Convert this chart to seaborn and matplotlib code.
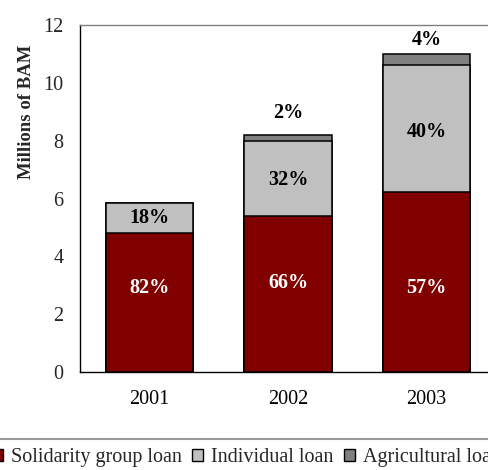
import matplotlib
matplotlib.use("Agg")
import matplotlib.pyplot as plt
import seaborn as sns
import pandas as pd
import numpy as np
from matplotlib.patches import Patch

years = ["2001", "2002", "2003"]
solidarity = [4.80, 5.40, 6.23]
individual = [1.05, 2.60, 4.39]
agricultural = [0.00, 0.20, 0.38]
labels_solidarity = ["82%", "66%", "57%"]
labels_individual = ["18%", "32%", "40%"]
labels_agricultural = ["", "2%", "4%"]
series_names = ["Solidarity group loan", "Individual loan", "Agricultural loan"]
colors = ["#800000", "#C0C0C0", "#808080"]

# label placement tweaks (value units), as in the original
off_solidarity = [0.50, 0.38, -0.20]
off_individual = [0.0, -0.06, -0.13]
off_top = [0.0, 0.76, 0.49]

sns.set_theme(style="white")
plt.rcParams["font.family"] = ["Liberation Serif", "DejaVu Serif"]

fig = plt.figure(figsize=(4.89, 4.70), dpi=100)
ax = fig.add_axes([80/489, 98/470, 416/489, 347/470])

s = np.array(solidarity)
i = np.array(individual)
a = np.array(agricultural)
layers = [(s + i + a, colors[2]), (s + i, colors[1]), (s, colors[0])]
for vals, col in layers:
    df = pd.DataFrame({"year": years, "v": vals})
    sns.barplot(data=df, x="year", y="v", color=col, width=0.63,
                edgecolor="black", linewidth=1.1, saturation=1, ax=ax)

pct_fs = 14.5
for k in range(3):
    ax.text(k, s[k] / 2 + off_solidarity[k], labels_solidarity[k], ha="center", va="center",
            color="white", fontsize=pct_fs, fontweight="bold")
    ax.text(k, s[k] + i[k] / 2 + off_individual[k], labels_individual[k], ha="center",
            va="center", color="black", fontsize=pct_fs, fontweight="bold")
    if labels_agricultural[k]:
        ax.text(k, s[k] + i[k] + a[k] + off_top[k], labels_agricultural[k], ha="center",
                va="center", color="black", fontsize=pct_fs, fontweight="bold")

ax.set_xlim(-0.5, 2.5)
ax.set_ylim(0, 12)
ax.set_yticks([0, 2, 4, 6, 8, 10, 12])
ax.set_xticks([0, 1, 2])
ax.set_xticklabels(years)
ax.set_xticks([-0.5, 0.5, 1.5, 2.5], minor=True)
ax.tick_params(axis="x", which="major", length=0, pad=13, labelsize=14.5, colors="black")
ax.tick_params(axis="x", which="minor", length=5, width=1, direction="out", color="black")
ax.tick_params(axis="y", length=5, width=1, direction="out", labelsize=14.5, color="black", pad=7)
ax.set_xlabel("")
ax.set_ylabel("Millions of BAM", fontsize=13.5, fontweight="bold")
ax.yaxis.set_label_coords(-0.107, 0.75)
for side in ["left", "bottom"]:
    ax.spines[side].set_color("black")
    ax.spines[side].set_linewidth(1)
ax.spines["top"].set_color("#808080")
ax.spines["top"].set_linewidth(1)
ax.spines["right"].set_visible(False)

handles = [Patch(facecolor=c, edgecolor="black", linewidth=1) for c in colors]
leg_kw = dict(loc="upper center", ncol=3, frameon=True, fontsize=14.5, handlelength=0.55,
              handleheight=0.55, handletextpad=0.4, columnspacing=0.5, borderpad=0.45,
              borderaxespad=0, fancybox=False)
leg = fig.legend(handles, series_names, bbox_to_anchor=(0.5, 31/470), **leg_kw)
fig.canvas.draw()
x0 = leg.get_texts()[0].get_window_extent().x0
shift = (11 - x0) / fig.bbox.width
leg.remove()
leg = fig.legend(handles, series_names, bbox_to_anchor=(0.5 + shift, 31/470), **leg_kw)
leg.get_frame().set_edgecolor("#808080")
leg.get_frame().set_linewidth(1.5)

fig.savefig("out.png", dpi=100)
